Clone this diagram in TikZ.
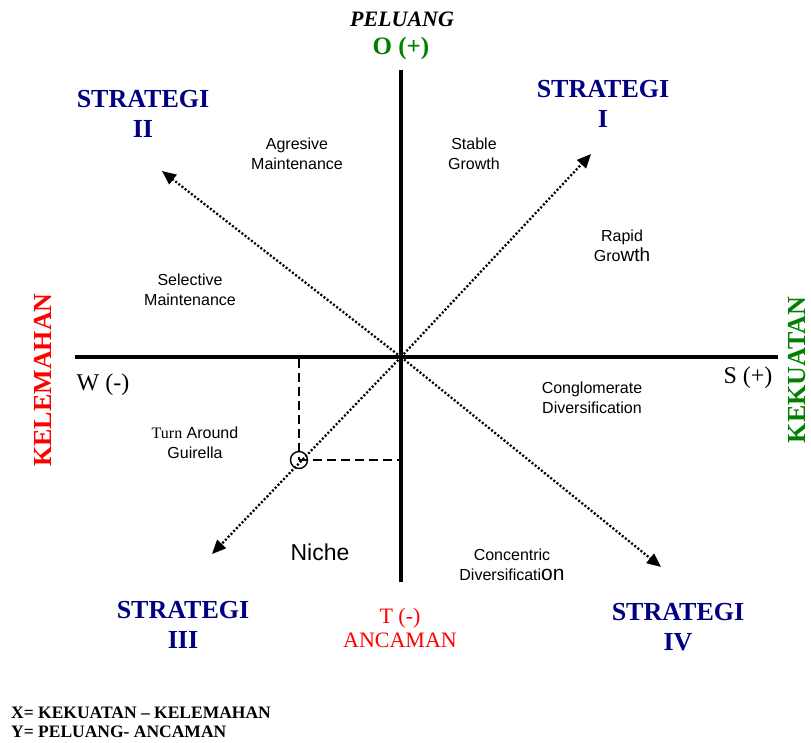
\documentclass[tikz,border=0pt]{standalone}
\usepackage{fontspec}
\setmainfont{Liberation Serif}
\newfontfamily\arial{Liberation Sans}
\usetikzlibrary{arrows.meta}
\definecolor{navy}{RGB}{0,0,128}
\definecolor{dgreen}{RGB}{0,128,0}
\definecolor{bred}{RGB}{255,0,0}
\begin{document}
\begin{tikzpicture}[x=1pt,y=-1pt,
  strat/.style={text=navy,font=\fontsize{26}{30}\selectfont\bfseries,align=center,inner sep=0pt},
  lbl/.style={font=\arial\fontsize{16}{20}\selectfont,align=center,inner sep=0pt},
  axis/.style={line width=4pt},
  darrow/.style={line width=2.3pt,dash pattern=on 2pt off 2pt,
     -{Triangle[length=14pt,width=12pt]}},
  dline/.style={dash pattern=on 9pt off 5pt,line width=1.5pt}]
\useasboundingbox (0,0) rectangle (811,742);
% axes
\coordinate (O) at (401,357);
\coordinate (L) at (75,357);
\coordinate (R) at (778,357);
\coordinate (T) at (401,70);
\coordinate (B) at (401,582);
\draw[axis] (L) -- (R);
\draw[axis] (T) -- (B);
% arrows
\coordinate (a1) at (591,154);
\coordinate (a2) at (162,171);
\coordinate (a3) at (212,554);
\coordinate (a4) at (661,567);
\draw[darrow] (O) -- (a1);
\draw[darrow] (O) -- (a2);
\draw[darrow] (O) -- (a3);
\draw[darrow] (O) -- (a4);
% dashed guide and point
\coordinate (px) at (299,359);
\coordinate (py) at (401,460);
\node[circle,draw,line width=1.4pt,minimum size=17pt,inner sep=0pt] (P) at (299,460) {};
\draw[dline] (px) -- (P.center);
\draw[dline] (P.center) -- (py);
% strategy labels
\node[strat] (s1) at (603,104) {STRATEGI\\I};
\node[strat] (s2) at (143,114) {STRATEGI\\II};
\node[strat] (s3) at (183,625) {STRATEGI\\III};
\node[strat] (s4) at (678,627) {STRATEGI\\IV};
% quadrant labels
\node[lbl] (ag) at (297,154) {Agresive\\Maintenance};
\node[lbl] (sg) at (474,154) {Stable\\Growth};
\node[lbl] (rg) at (622,246) {Rapid\\Gro{\fontsize{19}{20}\selectfont wth}};
\node[lbl] (sm) at (190,290) {Selective\\Maintenance};
\node[lbl] (cg) at (592,398) {Conglomerate\\Diversification};
\node[lbl] (ta) at (195,443) {{\rmfamily Turn} Around\\Guirella};
\node[lbl,font=\arial\fontsize{23}{26}\selectfont] (ni) at (320,552) {Niche};
\node[lbl] (cd) at (512,565) {Concentric\\Diversificati{\fontsize{21}{22}\selectfont on}};
% axis labels
\node[font=\fontsize{22}{26}\selectfont\bfseries\itshape,inner sep=0pt] (pel) at (402,19) {PELUANG};
\node[font=\fontsize{25}{28}\selectfont\bfseries,text=dgreen,inner sep=0pt] (op) at (401,48) {O (+)};
\node[font=\fontsize{24}{28}\selectfont,inner sep=0pt] (w) at (103,385) {W (-)};
\node[font=\fontsize{24}{28}\selectfont,inner sep=0pt] (s) at (748,378) {S (+)};
\node[font=\fontsize{26}{30}\selectfont\bfseries,text=bred,rotate=90,inner sep=0pt] (kl) at (43,380) {KELEMAHAN};
\node[font=\fontsize{26}{30}\selectfont\bfseries,text=dgreen,rotate=90,inner sep=0pt] (kk) at (797,370) {KEKUATAN};
\node[font=\fontsize{22}{24}\selectfont,text=bred,align=center,inner sep=0pt] (tm) at (400,628) {T (-)\\ANCAMAN};
% legend
\node[font=\fontsize{17.5}{19}\selectfont\bfseries,align=left,anchor=west,inner sep=0pt] (leg) at (11,722) {X= KEKUATAN -- KELEMAHAN\\Y= PELUANG- ANCAMAN};
\end{tikzpicture}
\end{document}
